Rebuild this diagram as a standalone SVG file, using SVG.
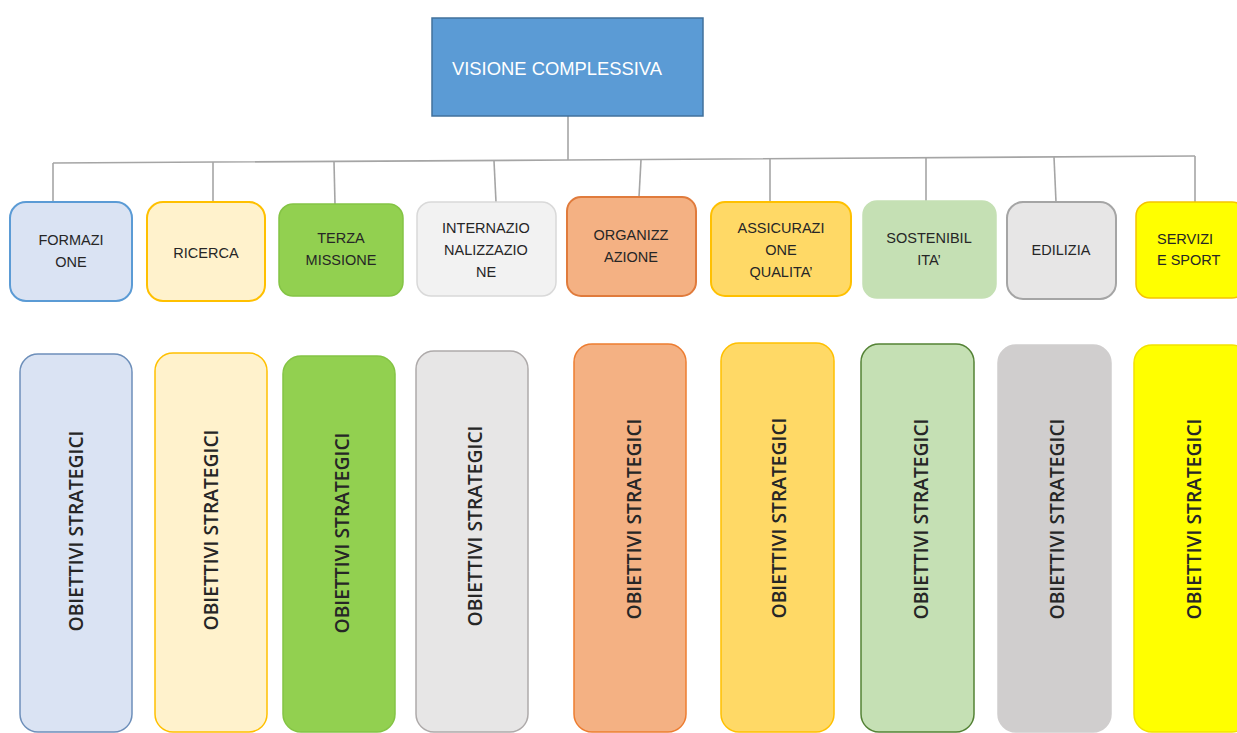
<svg xmlns="http://www.w3.org/2000/svg" width="1237" height="733" viewBox="0 0 1237 733">
<style>
.lbl{font-family:"Liberation Sans",Arial,sans-serif;font-size:14.5px;fill:#262626;text-anchor:middle}
.obj{font-family:"Open Sans","Liberation Sans",sans-serif;font-size:20px;font-weight:600;fill:#262626;text-anchor:middle}
.con{fill:none;stroke:#a5a5a5;stroke-width:1.6}
</style>
<rect width="1237" height="733" fill="#ffffff"/>
<g id="connectors">
<path class="con" d="M568 116 V160"/>
<path class="con" d="M53 163 L568 160 L1195 156"/>
<path class="con" d="M53 163 V202"/>
<path class="con" d="M213 162 V202"/>
<path class="con" d="M334 162 L335 204"/>
<path class="con" d="M494 161 L496 202"/>
<path class="con" d="M641 160 L639 197"/>
<path class="con" d="M770 159 V202"/>
<path class="con" d="M926 157 V201"/>
<path class="con" d="M1054 157 L1056 202"/>
<path class="con" d="M1195 156 V202"/>
</g>
<g id="visione">
<rect x="432" y="18" width="271" height="98" fill="#5b9bd5" stroke="#41719c" stroke-width="1.5"/>
<text x="452" y="75" font-family="'Liberation Sans',Arial,sans-serif" font-size="18.5" fill="#ffffff" textLength="210" lengthAdjust="spacingAndGlyphs">VISIONE COMPLESSIVA</text>
</g>
<g id="formazione">
<rect x="10" y="202" width="122" height="99" rx="16" fill="#dae3f3" stroke="#5b9bd5" stroke-width="2"/>
<text class="lbl" x="71" y="245">FORMAZI</text>
<text class="lbl" x="71" y="267">ONE</text>
</g>
<g id="ricerca">
<rect x="147" y="202" width="118" height="99" rx="16" fill="#fff2cc" stroke="#ffc000" stroke-width="2"/>
<text class="lbl" x="206" y="258">RICERCA</text>
</g>
<g id="terza">
<rect x="279" y="204" width="124" height="92" rx="14" fill="#92d050" stroke="#84c444" stroke-width="1.5"/>
<text class="lbl" x="341" y="243">TERZA</text>
<text class="lbl" x="341" y="265">MISSIONE</text>
</g>
<g id="internazionalizzazione">
<rect x="417" y="202" width="139" height="94" rx="14" fill="#f2f2f2" stroke="#d9d9d9" stroke-width="1.5"/>
<text class="lbl" x="486" y="233">INTERNAZIO</text>
<text class="lbl" x="486" y="255">NALIZZAZIO</text>
<text class="lbl" x="486" y="277">NE</text>
</g>
<g id="organizzazione">
<rect x="567" y="197" width="129" height="99" rx="14" fill="#f4b183" stroke="#e07b3c" stroke-width="2"/>
<text class="lbl" x="631" y="240">ORGANIZZ</text>
<text class="lbl" x="631" y="262">AZIONE</text>
</g>
<g id="assicurazione">
<rect x="711" y="202" width="140" height="94" rx="14" fill="#ffd966" stroke="#ffc000" stroke-width="2"/>
<text class="lbl" x="781" y="233">ASSICURAZI</text>
<text class="lbl" x="781" y="255">ONE</text>
<text class="lbl" x="781" y="277">QUALITA’</text>
</g>
<g id="sostenibilita">
<rect x="863" y="201" width="133" height="97" rx="14" fill="#c5e0b4" stroke="#c5e0b4" stroke-width="1.5"/>
<text class="lbl" x="929" y="243">SOSTENIBIL</text>
<text class="lbl" x="929" y="265">ITA’</text>
</g>
<g id="edilizia">
<rect x="1007" y="202" width="109" height="97" rx="16" fill="#e7e6e6" stroke="#a5a5a5" stroke-width="2"/>
<text class="lbl" x="1061" y="255">EDILIZIA</text>
</g>
<g id="servizi">
<rect x="1136" y="202" width="110" height="96" rx="14" fill="#ffff00" stroke="#f5c400" stroke-width="1.5"/>
<text class="lbl" x="1157" y="244" style="text-anchor:start">SERVIZI</text>
<text class="lbl" x="1157" y="265" style="text-anchor:start">E SPORT</text>
</g>
<g id="obiettivi-1">
<rect x="20" y="354" width="112" height="378" rx="18" fill="#dae3f3" stroke="#6d8fba" stroke-width="1.5"/>
<text class="obj" transform="translate(83,531) rotate(-90)" textLength="201" lengthAdjust="spacingAndGlyphs">OBIETTIVI STRATEGICI</text>
</g>
<g id="obiettivi-2">
<rect x="155" y="353" width="112" height="379" rx="18" fill="#fff2cc" stroke="#ffc000" stroke-width="1.5"/>
<text class="obj" transform="translate(218,530) rotate(-90)" textLength="201" lengthAdjust="spacingAndGlyphs">OBIETTIVI STRATEGICI</text>
</g>
<g id="obiettivi-3">
<rect x="283" y="356" width="112" height="376" rx="18" fill="#92d050" stroke="#84c444" stroke-width="1.5"/>
<text class="obj" transform="translate(349,533) rotate(-90)" textLength="201" lengthAdjust="spacingAndGlyphs">OBIETTIVI STRATEGICI</text>
</g>
<g id="obiettivi-4">
<rect x="416" y="351" width="112" height="381" rx="18" fill="#e7e6e6" stroke="#aeaaaa" stroke-width="1.5"/>
<text class="obj" transform="translate(482,526) rotate(-90)" textLength="201" lengthAdjust="spacingAndGlyphs">OBIETTIVI STRATEGICI</text>
</g>
<g id="obiettivi-5">
<rect x="574" y="344" width="112" height="388" rx="18" fill="#f4b183" stroke="#ed7d31" stroke-width="1.5"/>
<text class="obj" transform="translate(641,519) rotate(-90)" textLength="201" lengthAdjust="spacingAndGlyphs">OBIETTIVI STRATEGICI</text>
</g>
<g id="obiettivi-6">
<rect x="721" y="343" width="113" height="389" rx="18" fill="#ffd966" stroke="#ffc000" stroke-width="1.5"/>
<text class="obj" transform="translate(786,518) rotate(-90)" textLength="201" lengthAdjust="spacingAndGlyphs">OBIETTIVI STRATEGICI</text>
</g>
<g id="obiettivi-7">
<rect x="861" y="344" width="113" height="388" rx="18" fill="#c5e0b4" stroke="#548235" stroke-width="1.5"/>
<text class="obj" transform="translate(928,519) rotate(-90)" textLength="201" lengthAdjust="spacingAndGlyphs">OBIETTIVI STRATEGICI</text>
</g>
<g id="obiettivi-8">
<rect x="998" y="345" width="113" height="387" rx="18" fill="#d0cece" stroke="#d0cece" stroke-width="1.5"/>
<text class="obj" transform="translate(1064,519) rotate(-90)" textLength="201" lengthAdjust="spacingAndGlyphs">OBIETTIVI STRATEGICI</text>
</g>
<g id="obiettivi-9">
<rect x="1134" y="345" width="116" height="387" rx="18" fill="#ffff00" stroke="#f2e200" stroke-width="1.5"/>
<text class="obj" transform="translate(1201,519) rotate(-90)" textLength="201" lengthAdjust="spacingAndGlyphs">OBIETTIVI STRATEGICI</text>
</g>
</svg>
